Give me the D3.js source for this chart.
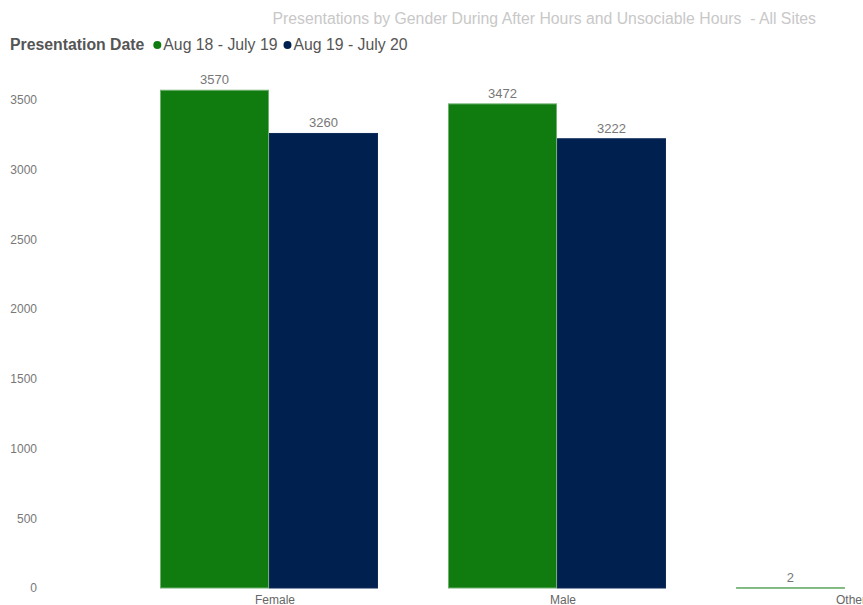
<!DOCTYPE html>
<html><head><meta charset="utf-8">
<script src="https://cdn.jsdelivr.net/npm/d3@7"></script>
<style>
body{margin:0;background:#fff;}
svg{display:block;font-family:"Liberation Sans",Arial,sans-serif;}
</style></head>
<body><svg id="c" width="863" height="605"></svg>
<script>
const categories = ["Female", "Male", "Other"];
const seriesNames = ["Aug 18 - July 19", "Aug 19 - July 20"];
const series1 = [3570, 3472, 2];
const series2 = [3260, 3222, 0];
const yTicks = [0, 500, 1000, 1500, 2000, 2500, 3000, 3500];
const titleText = "Presentations by Gender During After Hours and Unsociable Hours  - All Sites";
const legendTitle = "Presentation Date";

const colors = ["#107c10", "#002050"];
const strokes = ["#6fb06f", "#0d2a58"];

const svg = d3.select("#c");
const x0 = d3.scaleBand().domain(categories).range([125, 989]).paddingInner(0.243).paddingOuter(0.1215);
const x1 = d3.scaleBand().domain(seriesNames).range([0, x0.bandwidth()]).padding(0);
const y = d3.scaleLinear().domain([0, 3500]).range([588, 100]);

// title
svg.append("text").attr("x", 816).attr("y", 24).attr("text-anchor", "end")
  .attr("font-size", 15.8).attr("fill", "#c8c8c8").style("white-space", "pre").text(titleText);

// legend
const lg = svg.append("g").attr("transform", "translate(10,50)");
const lt = lg.append("text").attr("x", 0).attr("y", 0).attr("font-size", 15.8).attr("font-weight", "bold").attr("fill", "#555").text(legendTitle);
let lx = lt.node().getComputedTextLength() + 9;
seriesNames.forEach((s, i) => {
  lg.append("circle").attr("cx", lx + 4).attr("cy", -5).attr("r", 4).attr("fill", colors[i]);
  const t = lg.append("text").attr("x", lx + 10).attr("y", 0).attr("font-size", 15.8).attr("fill", "#555").text(s);
  lx += 10 + t.node().getComputedTextLength() + 6;
});

// y axis
const ya = svg.append("g").attr("transform", "translate(37,0)")
  .call(d3.axisLeft(y).tickValues(yTicks).tickSize(0).tickPadding(0).tickFormat(d3.format("d")));
ya.select(".domain").remove();
ya.selectAll("text").attr("font-size", 12).attr("fill", "#777").attr("font-family", "Liberation Sans, Arial, sans-serif");

// x axis
const xa = svg.append("g").attr("transform", "translate(6,588)")
  .call(d3.axisBottom(x0).tickSize(0).tickPadding(7));
xa.select(".domain").remove();
xa.selectAll("text").attr("font-size", 12).attr("fill", "#666").attr("font-family", "Liberation Sans, Arial, sans-serif");

// bars
const data = categories.map((c, i) => ({cat: c, vals: [series1[i], series2[i]]}));
const g = svg.selectAll("g.grp").data(data).enter().append("g").attr("class", "grp")
  .attr("transform", d => `translate(${x0(d.cat)},0)`);
g.selectAll("rect").data(d => d.vals.map((v, i) => ({v, i}))).enter().append("rect")
  .filter(d => d.v > 0)
  .attr("x", d => x1(seriesNames[d.i]) + 0.5)
  .attr("width", x1.bandwidth() - 1)
  .attr("y", d => y(d.v))
  .attr("height", d => Math.max(0.5, y(0) - y(d.v)))
  .attr("fill", d => colors[d.i])
  .attr("stroke", d => strokes[d.i]).attr("stroke-width", 1);
g.selectAll("text.lbl").data(d => d.vals.map((v, i) => ({v, i}))).enter().append("text")
  .filter(d => d.v > 0)
  .attr("class", "lbl")
  .attr("x", d => x1(seriesNames[d.i]) + x1.bandwidth() / 2)
  .attr("y", d => y(d.v) - 6)
  .attr("text-anchor", "middle").attr("font-size", 13).attr("fill", "#777")
  .text(d => d.v);
</script></body></html>
